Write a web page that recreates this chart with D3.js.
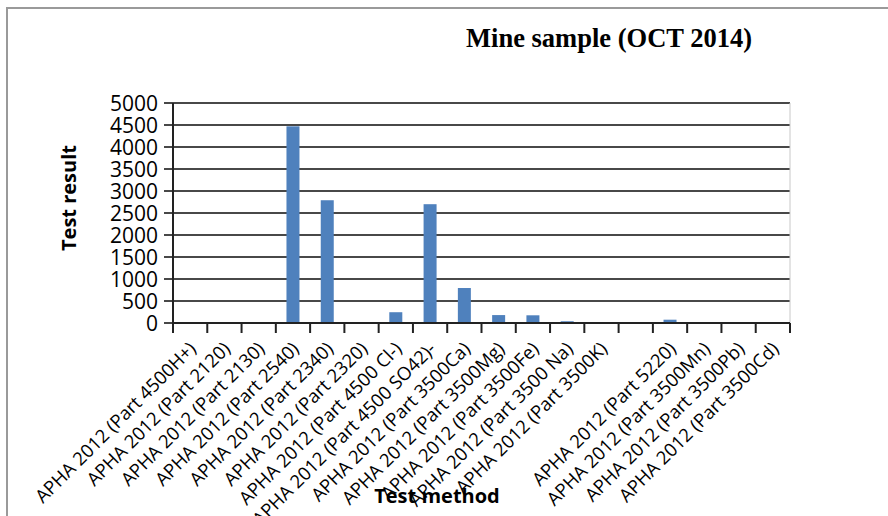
<!DOCTYPE html>
<html><head><meta charset="utf-8">
<script src="https://cdn.jsdelivr.net/npm/d3@7"></script>
<style>body{margin:0;background:#fff}svg{display:block}</style>
</head><body>
<svg id="c" width="888" height="516"></svg>
<script>
const categories = [
  "APHA 2012 (Part 4500H+)", "APHA 2012 (Part 2120)", "APHA 2012 (Part 2130)",
  "APHA 2012 (Part 2540)", "APHA 2012 (Part 2340)", "APHA 2012 (Part 2320)",
  "APHA 2012 (Part 4500 Cl-)", "APHA 2012 (Part 4500 SO42)-", "APHA 2012 (Part 3500Ca)",
  "APHA 2012 (Part 3500Mg)", "APHA 2012 (Part 3500Fe)", "APHA 2012 (Part 3500 Na)",
  "APHA 2012 (Part 3500K)", "", "APHA 2012 (Part 5220)",
  "APHA 2012 (Part 3500Mn)", "APHA 2012 (Part 3500Pb)", "APHA 2012 (Part 3500Cd)"
];
const values = [7, 15, 12, 4470, 2790, 3, 245, 2700, 795, 180, 175, 40, 10, 0, 75, 5, 0, 0];
const yTicks = [0, 500, 1000, 1500, 2000, 2500, 3000, 3500, 4000, 4500, 5000];
const title = "Mine sample (OCT 2014)";
const xTitle = "Test method";
const yTitle = "Test result";

const svg = d3.select("#c");
const L = 173, R = 790, T = 103, B = 323;

// outer frame
svg.append("rect").attr("x", 7).attr("y", 8).attr("width", 900).attr("height", 520)
  .attr("fill", "none").attr("stroke", "#9a9a9a").attr("stroke-width", 2);

const xb = d3.scaleBand().domain(d3.range(categories.length)).range([L, R]);
const y = d3.scaleLinear().domain([0, 5000]).range([B, T]);

// gridlines (extend left as ticks)
svg.append("g").selectAll("line").data(yTicks).join("line")
  .attr("x1", L - 9).attr("x2", R).attr("y1", d => y(d)).attr("y2", d => y(d))
  .attr("stroke", "#484848").attr("stroke-width", 2.2);

// right plot border
svg.append("line").attr("x1", R).attr("x2", R).attr("y1", T).attr("y2", B)
  .attr("stroke", "#c8c8c8").attr("stroke-width", 1);

// bars
svg.append("g").selectAll("rect").data(values).join("rect")
  .attr("x", (d, i) => xb(i) + (xb.bandwidth() - 13) / 2)
  .attr("width", 13)
  .attr("y", d => y(d))
  .attr("height", d => Math.max(0, B - y(d)))
  .attr("fill", "#4F81BD");

// y axis line
svg.append("line").attr("x1", L).attr("x2", L).attr("y1", T).attr("y2", B)
  .attr("stroke", "#222").attr("stroke-width", 2);
// x axis line
svg.append("line").attr("x1", L).attr("x2", R).attr("y1", B).attr("y2", B)
  .attr("stroke", "#222").attr("stroke-width", 2);
// x ticks at band boundaries
const bounds = d3.range(categories.length + 1).map(i => i < categories.length ? xb(i) : R);
svg.append("g").selectAll("line").data(bounds).join("line")
  .attr("x1", d => d).attr("x2", d => d).attr("y1", B).attr("y2", B + 10)
  .attr("stroke", "#222").attr("stroke-width", 2);

// y tick labels
svg.append("g").selectAll("text").data(yTicks).join("text")
  .attr("x", 158).attr("y", d => y(d) + 7.5)
  .attr("text-anchor", "end")
  .attr("font-family", "Open Sans, sans-serif").attr("font-size", 21).attr("fill", "#000")
  .text(d => d);

// x labels
svg.append("g").selectAll("text").data(categories).join("text")
  .attr("text-anchor", "end")
  .attr("font-family", "Open Sans, sans-serif").attr("font-size", 18.5).attr("fill", "#000")
  .attr("transform", (d, i) => `translate(${xb(i) + xb.bandwidth() / 2 + 7},${B + 27}) rotate(-45)`)
  .text(d => d);

// title
svg.append("text").attr("x", 609).attr("y", 47).attr("text-anchor", "middle")
  .attr("font-family", "Liberation Serif, Times New Roman, serif").attr("font-weight", "bold")
  .attr("font-size", 27).attr("textLength", 286).attr("lengthAdjust", "spacingAndGlyphs")
  .text(title);

// axis titles
svg.append("text").attr("x", 437).attr("y", 503).attr("text-anchor", "middle")
  .attr("font-family", "Open Sans, sans-serif").attr("font-weight", "bold").attr("font-size", 20)
  .text(xTitle);
svg.append("text").attr("transform", "translate(76,198) rotate(-90)").attr("text-anchor", "middle")
  .attr("font-family", "Open Sans, sans-serif").attr("font-weight", "bold").attr("font-size", 20)
  .text(yTitle);
</script>
</body></html>
